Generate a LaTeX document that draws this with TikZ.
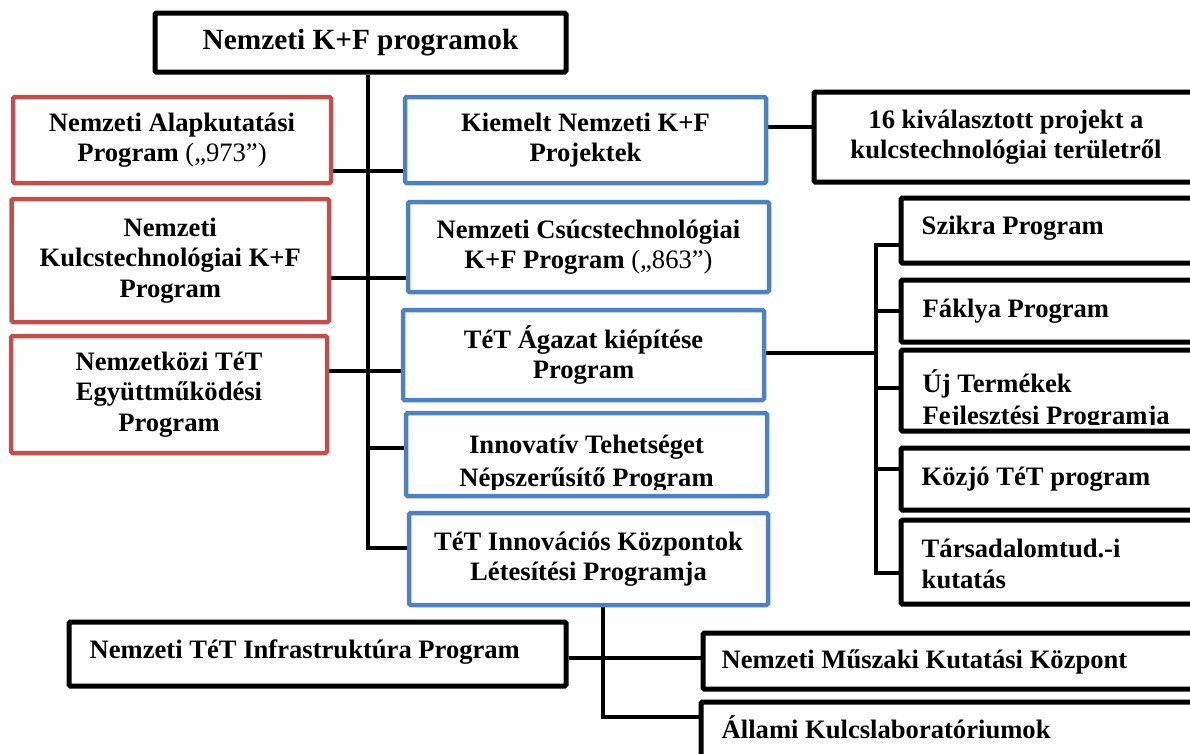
\documentclass[tikz,border=0pt]{standalone}
\usepackage{fontspec}
\setmainfont{Liberation Serif}
\usetikzlibrary{backgrounds}
\definecolor{boxred}{HTML}{C0504D}
\definecolor{boxblue}{HTML}{4F81BD}
\newcommand{\txtfont}{\fontsize{26.6pt}{30.5pt}\selectfont\bfseries}
\newcommand{\clipfont}{\fontsize{26.6pt}{32.5pt}\selectfont\bfseries}
\newcommand{\ttlfont}{\fontsize{29.3pt}{33pt}\selectfont\bfseries}
\tikzset{
  boxbase/.style={rounded corners=1.5pt, fill=white, inner sep=0pt, align=center, font=\txtfont},
  rbox/.style={boxbase, draw=boxred, line width=4.5pt},
  bbox/.style={boxbase, draw=boxblue, line width=4.5pt},
  kbox/.style={boxbase, draw=black, line width=5pt},
  conn/.style={draw=black, line width=3.5pt},
  lbl/.style={inner sep=0pt, align=left, font=\txtfont, anchor=west},
  ctr/.style={inner sep=0pt, align=center, font=\txtfont},
}
\begin{document}
\begin{tikzpicture}[x=1pt,y=-1pt]
\clip (0,0) rectangle (1190,753);
\begin{pgfonlayer}{background}
\fill[white] (0,0) rectangle (1190,753);
\end{pgfonlayer}

% top
\node[kbox, minimum width=411pt, minimum height=59pt, font=\ttlfont] (top) at (360.5,42.5) {Nemzeti K+F programok};

% red column
\node[rbox, minimum width=318pt, minimum height=86pt] (r1) at (172,140) {Nemzeti Alapkutatási\\Program \textmd{(„973”)}};
\node[rbox, minimum width=317.5pt, minimum height=123pt] (r2) at (170.25,260.5) {Nemzeti\\Kulcstechnológiai K+F\\Program};
\node[rbox, minimum width=316pt, minimum height=117pt] (r3) at (169,394.5) {Nemzetközi TéT\\Együttműködési\\Program};

% blue column
\node[bbox, minimum width=361pt, minimum height=86pt] (b1) at (585.5,140) {Kiemelt Nemzeti K+F\\Projektek};
\node[bbox, minimum width=361pt, minimum height=90pt] (b2) at (588.5,247) {Nemzeti Csúcstechnológiai\\K+F Program \textmd{(„863”)}};
\node[bbox, minimum width=361pt, minimum height=90pt] (b3) at (583.5,355) {TéT Ágazat kiépítése\\Program};
\node[bbox, minimum width=361pt, minimum height=83pt] (b4) at (586.5,454.5) {};
\node[bbox, minimum width=359pt, minimum height=92pt] (b5) at (588.5,559) {TéT Innovációs Központok\\Létesítési Programja};

% right boxes
\node[kbox, minimum width=384pt, minimum height=90pt] (k) at (1006,137) {16 kiválasztott projekt a\\kulcstechnológiai területről};
\node[kbox, minimum width=299pt, minimum height=65pt] (s1) at (1050.5,230.5) {};
\node[kbox, minimum width=299pt, minimum height=62pt] (s2) at (1050.5,311) {};
\node[kbox, minimum width=299pt, minimum height=81pt] (s3) at (1050.5,390.5) {};
\node[kbox, minimum width=299pt, minimum height=62pt] (s4) at (1050.5,479) {};
\node[kbox, minimum width=299pt, minimum height=84pt] (s5) at (1050.5,562) {};
\node[lbl] (s1t) at ([xshift=23pt,yshift=2pt]s1.west) {Szikra Program};
\node[lbl] (s2t) at ([xshift=24pt]s2.west) {Fáklya Program};
\node[lbl] (s4t) at ([xshift=23pt]s4.west) {Közjó TéT program};
\node[lbl] (s5t) at ([xshift=23pt,yshift=-2pt]s5.west) {Társadalomtud.-i\\kutatás};

% bottom boxes
\node[kbox, minimum width=497pt, minimum height=64pt] (nt) at (317.5,654) {};
\node[kbox, minimum width=497pt, minimum height=56pt] (nm) at (951.5,661) {};
\node[kbox, minimum width=499pt, minimum height=78pt] (ak) at (950.5,741) {};
\node[lbl] (ntt) at ([xshift=23pt,yshift=2pt]nt.west) {Nemzeti TéT Infrastruktúra Program};
\node[lbl] (nmt) at ([xshift=21pt,yshift=-1pt]nm.west) {Nemzeti Műszaki Kutatási Központ};
\node[lbl] (akt) at ([xshift=23pt]ak.north west) [yshift=-28pt] {Állami Kulcslaboratóriumok};

% clipped texts
\begin{scope}
\clip (b4.north west) rectangle ([yshift=-34.5pt]b4.east);
\node[ctr, font=\clipfont] (b4t) at ([yshift=-9pt]b4.center) {Innovatív Tehetséget\\Népszerűsítő Program};
\end{scope}
\begin{scope}
\clip (s3.north west) rectangle ([yshift=-33.5pt]s3.east);
\node[lbl, font=\clipfont] (s3t) at ([xshift=24pt,yshift=-9.5pt]s3.west) {Új Termékek\\Fejlesztési Programja};
\end{scope}

% connectors
\begin{pgfonlayer}{background}
\coordinate (tb) at (368,548);
\draw[conn] (top.south -| tb) -- (tb) -- (tb -| b5.west);
\coordinate (c1) at ([yshift=-31pt]r1.east);
\draw[conn] (c1) -- (c1 -| b1.west);
\coordinate (c2) at ([yshift=-17.5pt]r2.east);
\draw[conn] (c2) -- (c2 -| b2.west);
\coordinate (c3) at ([yshift=23.5pt]r3.east);
\draw[conn] (c3) -- (c3 -| b3.west);
\coordinate (c4) at ([yshift=6.5pt]b4.west);
\draw[conn] (c4 -| tb) -- (c4);
\coordinate (ck) at ([yshift=13pt]b1.east);
\draw[conn] (ck) -- (ck -| k.west);
\coordinate (bus) at (876,353);
\draw[conn] ([yshift=2pt]b3.east) -- ([yshift=2pt]b3.east -| bus);
\coordinate (cs1) at ([yshift=-14.5pt]s1.west);
\coordinate (cs5) at ([yshift=-11pt]s5.west);
\draw[conn] (cs1) -- (cs1 -| bus) -- (cs5 -| bus) -- (cs5);
\draw[conn] (s2.west -| bus) -- (s2.west);
\coordinate (cs3) at ([yshift=2.5pt]s3.west);
\draw[conn] (cs3 -| bus) -- (cs3);
\coordinate (cs4) at ([yshift=10pt]s4.west);
\draw[conn] (cs4 -| bus) -- (cs4);
\coordinate (dn) at (603,717);
\draw[conn] (b5.south -| dn) -- (dn) -- (dn -| ak.west);
\coordinate (cn) at ([yshift=-4pt]nt.east);
\draw[conn] (cn) -- (cn -| nm.west);
\end{pgfonlayer}
\end{tikzpicture}
\end{document}
